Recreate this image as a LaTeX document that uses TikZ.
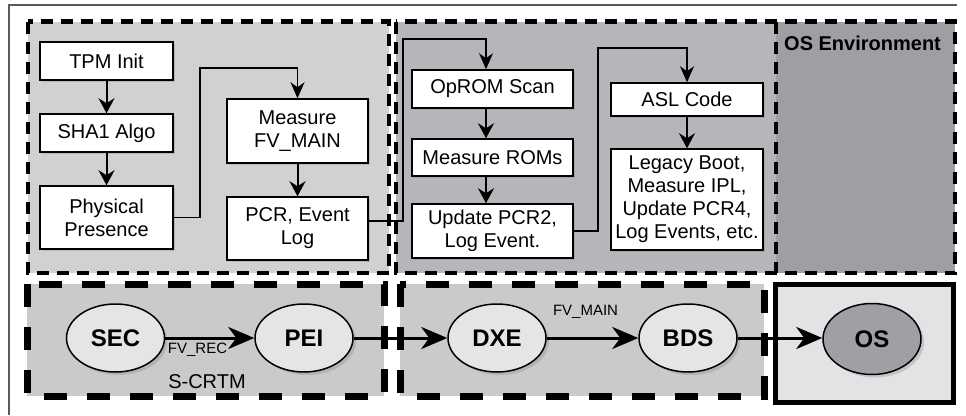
\documentclass[tikz,border=0pt]{standalone}
\usepackage{fontspec}
\setmainfont{Liberation Sans}
\usetikzlibrary{arrows.meta,shadows,shapes.geometric}
\definecolor{tlfill}{HTML}{D0D1D3}
\definecolor{midfill}{HTML}{B5B6B9}
\definecolor{osenv}{HTML}{9E9FA3}
\definecolor{bfill}{HTML}{C9CACC}
\definecolor{osbox}{HTML}{E3E3E5}
\definecolor{ellfill}{HTML}{E5E5E7}
\definecolor{osell}{HTML}{A0A0A4}
\definecolor{framegray}{HTML}{5A5A5A}
\begin{document}
\begin{tikzpicture}[x=1pt,y=-1pt,
  tdash/.style={line width=4.5pt, dash pattern=on 12pt off 8pt},
  bdash/.style={line width=7pt, dash pattern=on 23pt off 20pt},
  box/.style={draw, line width=1.5pt, fill=white, align=center, inner sep=0pt,
    font=\fontsize{20}{23}\selectfont,
    drop shadow={opacity=0.3, shadow xshift=2pt, shadow yshift=-2pt}},
  ell/.style={ellipse, draw, line width=1.5pt, fill=ellfill, inner sep=0pt,
    minimum width=98pt, minimum height=68pt,
    font=\fontsize{24}{28}\selectfont\bfseries,
    drop shadow={opacity=0.3, shadow xshift=3pt, shadow yshift=-3pt}},
  thinarr/.style={line width=1.3pt, -{Stealth[length=16pt,width=14pt,inset=5pt]}},
  vertarr/.style={line width=2pt, -{Stealth[length=15pt,width=16pt,inset=5pt]}},
  bigarr/.style={line width=3pt, -{Stealth[length=26pt,width=22pt,inset=8pt]}},
  lbl/.style={inner sep=0pt, font=\fontsize{15}{18}\selectfont}
]
\useasboundingbox (0,0) rectangle (966,415);
% outer frame
\draw[framegray, line width=1.5pt] (9,415) -- (9,5) -- (957,5);
% top regions
\fill[tlfill] (28,21.5) rectangle (389,273);
\draw[tdash] (28,21.5) rectangle (389,273);
\fill[midfill] (396,21.5) rectangle (776,273);
\fill[osenv] (776,21.5) rectangle (955,273);
\draw[tdash] (396,21.5) rectangle (955,273);
\draw[tdash] (776,21.5) -- (776,273);
% bottom regions
\fill[bfill] (27,284) rectangle (384,396);
\draw[bdash] (27,284) rectangle (384,396);
\fill[bfill] (400,284) rectangle (764,396);
\draw[bdash] (400,284) rectangle (764,396);
\draw[line width=5pt, fill=osbox] (775.5,284.5) rectangle (953,402.5);

\node[inner sep=0pt, anchor=west, font=\fontsize{20}{23}\selectfont\bfseries] (osenvlbl) at (784,43) {OS Environment};

% top boxes
\node[box, minimum width=133pt, minimum height=38pt] (tpm) at (106.5,61) {TPM Init};
\node[box, minimum width=133pt, minimum height=38pt] (sha) at (106.5,133) {SHA1 Algo};
\node[box, minimum width=133pt, minimum height=63pt] (phys) at (106.5,217.5) {Physical\\Presence};
\node[box, minimum width=141pt, minimum height=64pt] (mfv) at (297.5,131) {Measure\\FV\_MAIN};
\node[box, minimum width=141pt, minimum height=63pt] (pcr) at (297.5,228.5) {PCR, Event\\Log};
\node[box, minimum width=161pt, minimum height=38pt] (oprom) at (492.5,89) {OpROM Scan};
\node[box, minimum width=161pt, minimum height=37pt] (mrom) at (492.5,157.5) {Measure ROMs};
\node[box, minimum width=161pt, minimum height=54pt] (upd) at (492.5,231) {Update PCR2,\\Log Event.};
\node[box, minimum width=152pt, minimum height=33pt] (asl) at (687,99.5) {ASL Code};
\node[box, minimum width=152pt, minimum height=101pt] (leg) at (687,199.5) {Legacy Boot,\\Measure IPL,\\Update PCR4,\\Log Events, etc.};

% top connectors
\coordinate (c1) at (200,68);
\coordinate (c3) at (403,221);
\coordinate (c4) at (403,39);
\coordinate (col) at (486,0);
\coordinate (c5) at (598,48);
\draw[vertarr] (tpm) -- (sha);
\draw[vertarr] (sha) -- (phys);
\draw[vertarr] (mfv) -- (pcr);
\draw[vertarr] (oprom.south -| col) -- (mrom.north -| col);
\draw[vertarr] (mrom.south -| col) -- (upd.north -| col);
\draw[vertarr] (asl) -- (leg);
\draw[thinarr] (phys.east) -| (c1) -| (mfv.north);
\draw[thinarr] (pcr.east |- c3) -- (c3) -- (c4) -| (oprom.north -| col);
\draw[thinarr] (upd.east) -| (c5) -| (asl.north);

% bottom ellipses
\node[ell] (sec) at (115.5,338) {SEC};
\node[ell] (pei) at (304,338) {PEI};
\node[ell] (dxe) at (497,338) {DXE};
\node[ell] (bds) at (688,338) {BDS};
\node[ell, fill=osell, minimum height=71pt] (os) at (872,339) {OS};

\draw[bigarr] (sec.east) -- (pei.west);
\draw[bigarr] (pei.east) -- (dxe.west);
\draw[bigarr] (dxe.east) -- (bds.west);
\draw[bigarr] (bds.east) -- (os.west |- bds.east);

\node[lbl] (fvrec) at (197.5,350) {FV\_REC};
\node[lbl] (fvmain) at (585.5,312) {FV\_MAIN};
\node[inner sep=0pt, font=\fontsize{20}{23}\selectfont] (scrtm) at (207,382) {S-CRTM};
\end{tikzpicture}
\end{document}
